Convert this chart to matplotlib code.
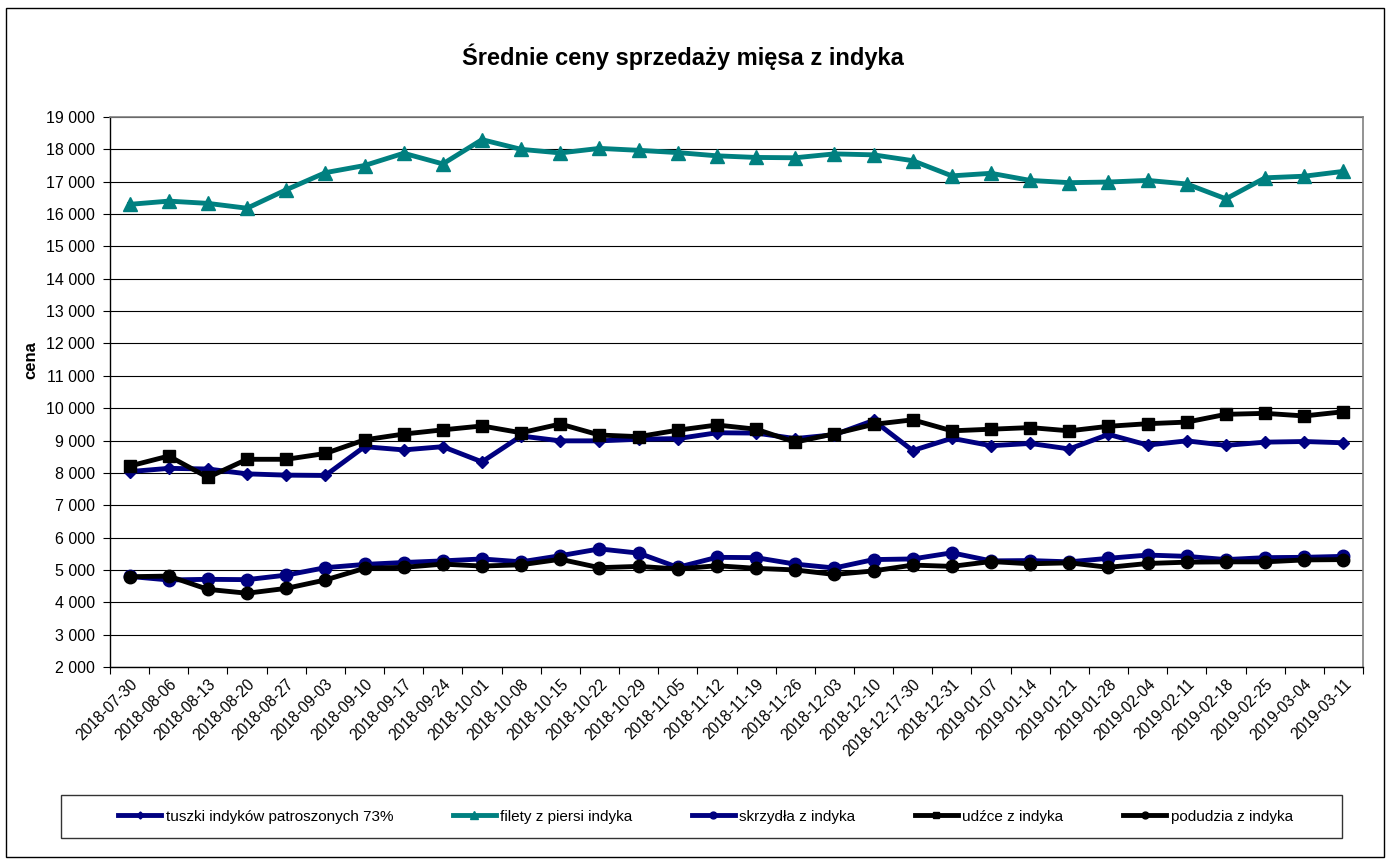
import matplotlib.pyplot as plt
from matplotlib.patches import Rectangle
import numpy as np

plt.rcParams['font.family'] = ['Liberation Sans', 'DejaVu Sans']

dates = ["2018-07-30", "2018-08-06", "2018-08-13", "2018-08-20", "2018-08-27",
         "2018-09-03", "2018-09-10", "2018-09-17", "2018-09-24", "2018-10-01",
         "2018-10-08", "2018-10-15", "2018-10-22", "2018-10-29", "2018-11-05",
         "2018-11-12", "2018-11-19", "2018-11-26", "2018-12-03", "2018-12-10",
         "2018-12-17-30", "2018-12-31", "2019-01-07", "2019-01-14", "2019-01-21",
         "2019-01-28", "2019-02-04", "2019-02-11", "2019-02-18", "2019-02-25",
         "2019-03-04", "2019-03-11"]

tuszki = [8040, 8140, 8120, 7970, 7930, 7920, 8810, 8710, 8810, 8340,
          9140, 8990, 8990, 9040, 9060, 9240, 9230, 9060, 9180, 9620,
          8690, 9070, 8840, 8910, 8740, 9190, 8860, 8990, 8850, 8950,
          8970, 8930]
filety = [16300, 16400, 16330, 16180, 16750, 17280, 17500, 17880, 17550, 18300,
          18000, 17890, 18030, 17970, 17900, 17800, 17750, 17740, 17860, 17830,
          17650, 17180, 17260, 17040, 16970, 16990, 17040, 16930, 16470, 17120,
          17170, 17320]
skrzydla = [4800, 4690, 4710, 4700, 4840, 5070, 5170, 5230, 5280, 5340,
            5250, 5440, 5650, 5520, 5080, 5390, 5380, 5180, 5060, 5320,
            5340, 5530, 5280, 5290, 5250, 5360, 5460, 5420, 5320, 5380,
            5390, 5420]
udzce = [8210, 8520, 7860, 8420, 8420, 8600, 9020, 9200, 9330, 9450,
         9240, 9510, 9170, 9120, 9320, 9480, 9350, 8950, 9210, 9500,
         9640, 9300, 9350, 9400, 9300, 9440, 9520, 9570, 9810, 9840,
         9760, 9890]
podudzia = [4790, 4810, 4400, 4280, 4430, 4690, 5050, 5080, 5180, 5120,
            5160, 5330, 5070, 5110, 5030, 5130, 5050, 5000, 4860, 4970,
            5150, 5110, 5260, 5190, 5220, 5080, 5200, 5240, 5250, 5250,
            5310, 5320]

series = [
    ("tuszki indyków patroszonych 73%", tuszki, '#000080', 'D', 6.5),
    ("filety z piersi indyka", filety, '#008080', '^', 10),
    ("skrzydła z indyka", skrzydla, '#000080', 'o', 9),
    ("udźce z indyka", udzce, '#000000', 's', 9),
    ("podudzia z indyka", podudzia, '#000000', 'o', 9),
]

W, H = 1386, 859
fig = plt.figure(figsize=(W / 100, H / 100), dpi=100)
ax = fig.add_axes([110 / W, 1 - 667 / H, (1363 - 110) / W, (667 - 117) / H])

x = np.arange(len(dates))
for label, vals, color, marker, ms in series:
    ax.plot(x, vals, color=color, lw=3.5, marker=marker, ms=ms, label=label,
            markeredgecolor=color, markerfacecolor=color)

ax.set_xlim(-0.5, len(dates) - 0.5)
ax.set_ylim(2000, 19000)
ax.set_yticks(range(2000, 19001, 1000))
ax.set_yticklabels([f"{v // 1000} 000" for v in range(2000, 19001, 1000)], fontsize=11.5)
ax.yaxis.grid(True, color='black', lw=0.8)
ax.set_axisbelow(True)

ax.set_xticks(np.arange(len(dates) + 1) - 0.5)
ax.set_xticklabels([])
ax.set_xticks(x, minor=True)
ax.set_xticklabels(dates, minor=True, rotation=45, ha='right', va='top',
                   rotation_mode='anchor', fontsize=11.2)
ax.tick_params(axis='x', which='minor', length=0, pad=7)
ax.tick_params(axis='x', which='major', length=5, direction='out')
ax.tick_params(axis='y', length=5, direction='out', pad=6)

for s in ['top', 'right']:
    ax.spines[s].set_color('#808080')
    ax.spines[s].set_linewidth(1.2)
for s in ['left', 'bottom']:
    ax.spines[s].set_color('black')
    ax.spines[s].set_linewidth(1)

ax.set_ylabel("cena", fontsize=12, fontweight='bold')
ax.yaxis.set_label_coords((38 - 110) / (1363 - 110), (667 - 360) / (667 - 117))
fig.text(683 / W, 1 - 57 / H, "Średnie ceny sprzedaży mięsa z indyka",
         ha='center', va='center', fontsize=17, fontweight='bold')

# legend box
bx0, bx1, by0, by1 = 61, 1342, 795, 838
fig.add_artist(Rectangle((bx0 / W, 1 - by1 / H), (bx1 - bx0) / W, (by1 - by0) / H,
                         transform=fig.transFigure, fill=False, edgecolor='#333333', lw=1))
leg = fig.legend(loc='center', bbox_to_anchor=((bx0 + bx1) / 2 / W + 4 / W, 1 - (by0 + by1) / 2 / H),
                 ncol=5, fontsize=11, handlelength=2.8, handletextpad=0.3,
                 columnspacing=3.9, markerscale=0.55, frameon=False)

fig.add_artist(Rectangle((6 / W, 1 - 857 / H), (1384 - 6) / W, (857 - 8) / H,
                         transform=fig.transFigure, fill=False, edgecolor='black', lw=1))

fig.savefig("out.png", dpi=100)
